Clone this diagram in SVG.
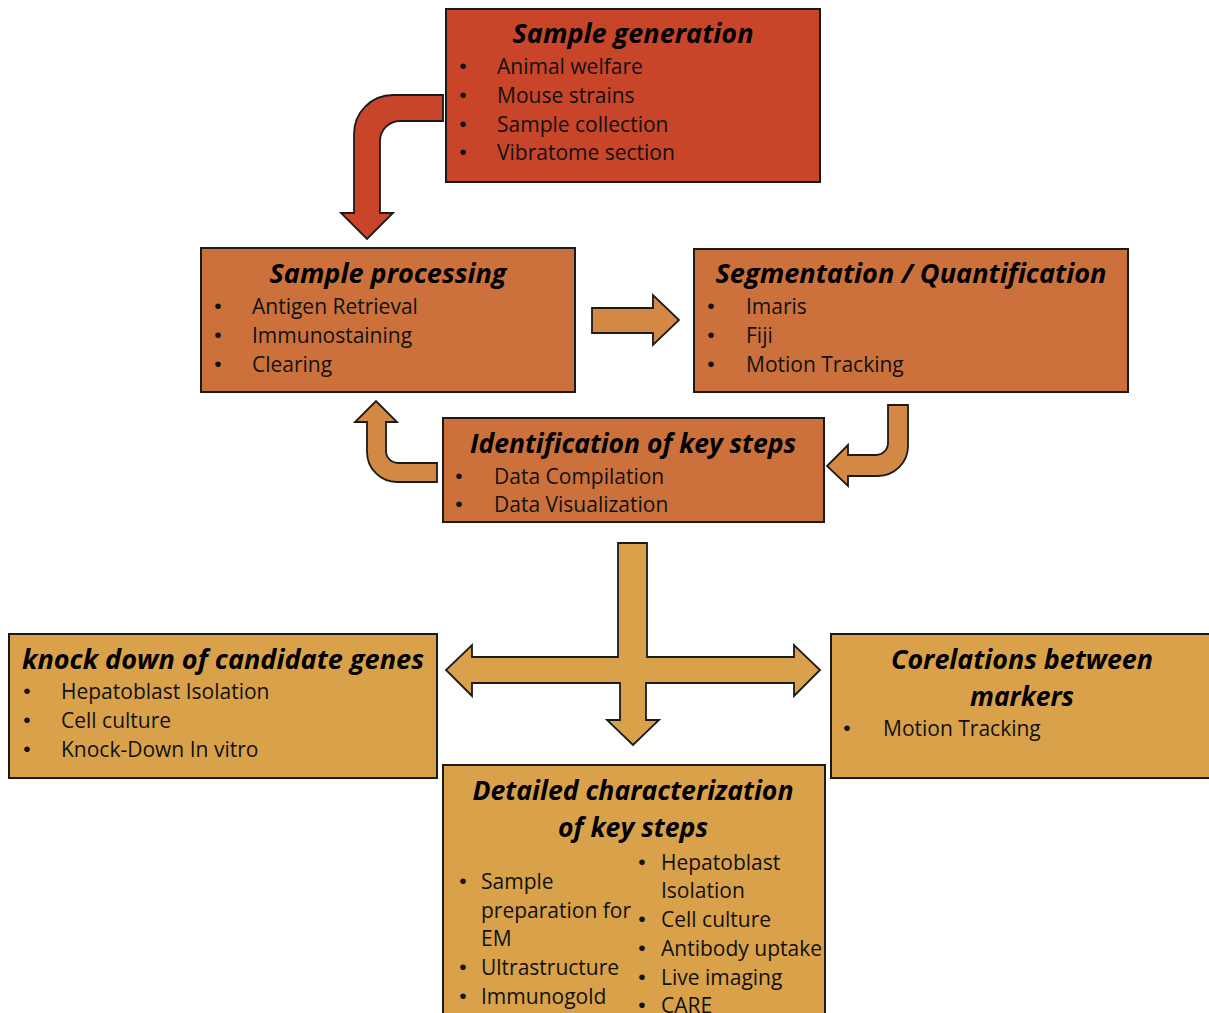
<svg xmlns="http://www.w3.org/2000/svg" width="1209" height="1013" viewBox="0 0 1209 1013">
<style>
.box{stroke:#1a1a1a;stroke-width:2}
.red{fill:#C8452A}
.org{fill:#CC713B}
.gold{fill:#D9A24A}
.arr{stroke:#1a1a1a;stroke-width:1.8;stroke-linejoin:miter}
.t{font-family:"Open Sans",Lato,"Liberation Sans",sans-serif;font-weight:bold;font-style:italic;font-size:26px;fill:#000;text-anchor:middle}
.b{font-family:"Open Sans",Lato,"Liberation Sans",sans-serif;font-size:21px;fill:#111}
.d{font-family:"Liberation Sans",Arial,sans-serif;font-size:21px;fill:#111;text-anchor:middle}
</style>
<rect width="1209" height="1013" fill="#fff"/>
<g id="connectors">
<path class="arr" fill="#C8452A" d="M443 95 L393 95 A39 39 0 0 0 354 134 L354 213 L341 213 L367 239 L393 213 L380 213 L380 141 A20 20 0 0 1 400 121 L443 121 Z"/>
<path class="arr" fill="#D38943" d="M592 308 L653 308 L653 295 L679 320 L653 345 L653 333 L592 333 Z"/>
<path class="arr" fill="#D38943" d="M437 463 L398 463 A12 12 0 0 1 386 451 L386 422 L397 422 L376 401 L355 422 L367 422 L367 452 A30 30 0 0 0 397 482 L437 482 Z"/>
<path class="arr" fill="#D38943" d="M888 405 L908 405 L908 446 A30 30 0 0 1 878 476 L848 476 L848 486 L827 466 L848 445 L848 455 L876 455 A12 12 0 0 0 888 443 Z"/>
<path class="arr" fill="#D9A24A" d="M618 543 L647 543 L647 657 L794 657 L794 645 L820 670 L794 696 L794 683 L646 683 L646 720 L659 720 L633 745 L607 720 L620 720 L620 683 L472 683 L472 696 L446 670 L472 645 L472 657 L618 657 Z"/>
</g>
<g id="sample-generation">
<rect class="box red" x="446" y="9" width="374" height="173"/>
<text class="t" x="633" y="43" textLength="241" lengthAdjust="spacingAndGlyphs">Sample generation</text>
<text class="d" x="463" y="73">•</text><text class="b" x="497" y="74">Animal welfare</text>
<text class="d" x="463" y="102">•</text><text class="b" x="497" y="103">Mouse strains</text>
<text class="d" x="463" y="131">•</text><text class="b" x="497" y="132">Sample collection</text>
<text class="d" x="463" y="159">•</text><text class="b" x="497" y="160">Vibratome section</text>
</g>
<g id="sample-processing">
<rect class="box org" x="201" y="248" width="374" height="144"/>
<text class="t" x="388" y="283" textLength="237" lengthAdjust="spacingAndGlyphs">Sample processing</text>
<text class="d" x="218" y="313">•</text><text class="b" x="252" y="314">Antigen Retrieval</text>
<text class="d" x="218" y="342">•</text><text class="b" x="252" y="343">Immunostaining</text>
<text class="d" x="218" y="371">•</text><text class="b" x="252" y="372">Clearing</text>
</g>
<g id="segmentation">
<rect class="box org" x="694" y="249" width="434" height="143"/>
<text class="t" x="911" y="283" textLength="391" lengthAdjust="spacingAndGlyphs">Segmentation / Quantification</text>
<text class="d" x="711" y="313">•</text><text class="b" x="746" y="314">Imaris</text>
<text class="d" x="711" y="342">•</text><text class="b" x="746" y="343">Fiji</text>
<text class="d" x="711" y="371">•</text><text class="b" x="746" y="372">Motion Tracking</text>
</g>
<g id="identification">
<rect class="box org" x="443" y="418" width="381" height="104"/>
<text class="t" x="633" y="453" textLength="326" lengthAdjust="spacingAndGlyphs">Identification of key steps</text>
<text class="d" x="459" y="483">•</text><text class="b" x="494" y="484">Data Compilation</text>
<text class="d" x="459" y="511">•</text><text class="b" x="494" y="512">Data Visualization</text>
</g>
<g id="knock-down">
<rect class="box gold" x="9" y="634" width="428" height="144"/>
<text class="t" x="223" y="669" textLength="402" lengthAdjust="spacingAndGlyphs">knock down of candidate genes</text>
<text class="d" x="27" y="698">•</text><text class="b" x="61" y="699">Hepatoblast Isolation</text>
<text class="d" x="27" y="727">•</text><text class="b" x="61" y="728">Cell culture</text>
<text class="d" x="27" y="756">•</text><text class="b" x="61" y="757">Knock-Down In vitro</text>
</g>
<g id="corelations">
<rect class="box gold" x="831" y="634" width="390" height="144"/>
<text class="t" x="1022" y="669" textLength="262" lengthAdjust="spacingAndGlyphs">Corelations between</text>
<text class="t" x="1022" y="706" textLength="104" lengthAdjust="spacingAndGlyphs">markers</text>
<text class="d" x="847" y="735">•</text><text class="b" x="883" y="736">Motion Tracking</text>
</g>
<g id="detailed">
<rect class="box gold" x="443" y="765" width="382" height="260"/>
<text class="t" x="633" y="800" textLength="321" lengthAdjust="spacingAndGlyphs">Detailed characterization</text>
<text class="t" x="633" y="837" textLength="150" lengthAdjust="spacingAndGlyphs">of key steps</text>
<text class="d" x="463" y="888">•</text><text class="b" x="481" y="889">Sample</text>
<text class="b" x="481" y="918">preparation for</text>
<text class="b" x="481" y="946">EM</text>
<text class="d" x="463" y="974">•</text><text class="b" x="481" y="975">Ultrastructure</text>
<text class="d" x="463" y="1003">•</text><text class="b" x="481" y="1004">Immunogold</text>
<text class="d" x="642" y="869">•</text><text class="b" x="661" y="870">Hepatoblast</text>
<text class="b" x="661" y="898">Isolation</text>
<text class="d" x="642" y="926">•</text><text class="b" x="661" y="927">Cell culture</text>
<text class="d" x="642" y="955">•</text><text class="b" x="661" y="956">Antibody uptake</text>
<text class="d" x="642" y="984">•</text><text class="b" x="661" y="985">Live imaging</text>
<text class="d" x="642" y="1012">•</text><text class="b" x="661" y="1013">CARE</text>
</g>
</svg>
